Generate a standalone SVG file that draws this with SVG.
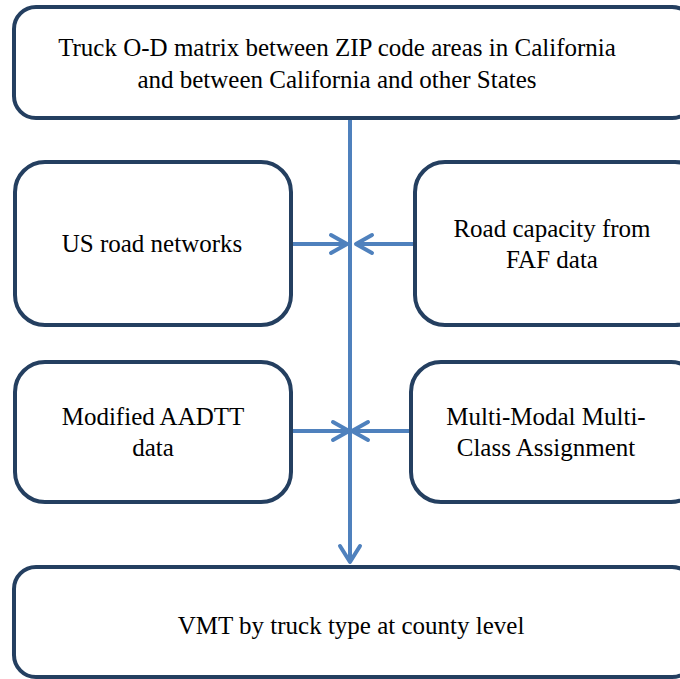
<svg xmlns="http://www.w3.org/2000/svg" width="680" height="679" viewBox="0 0 680 679">
<style>
.box{fill:#fff;stroke:#243F60;stroke-width:4}
.t{font-family:"Liberation Serif",serif;font-size:25px;fill:#000;text-anchor:middle}
.c{stroke:#4F81BD;stroke-width:4;fill:none}
.h{stroke:#4F81BD;stroke-width:4;fill:none;stroke-linecap:round;stroke-linejoin:round}
</style>
<rect width="680" height="679" fill="#fff"/>
<g id="connectors">
<line class="c" x1="350" y1="118" x2="350" y2="562"/>
<polyline class="h" points="340,546 350,562 360,546"/>
<line class="c" x1="292" y1="244" x2="347" y2="244"/>
<polyline class="h" points="331,235 347,244 331,253"/>
<line class="c" x1="415" y1="244" x2="356" y2="244"/>
<polyline class="h" points="372,235 356,244 372,253"/>
<line class="c" x1="292" y1="431" x2="349" y2="431"/>
<polyline class="h" points="333,422 349,431 333,440"/>
<line class="c" x1="411" y1="431" x2="352" y2="431"/>
<polyline class="h" points="368,422 352,431 368,440"/>
</g>
<g id="n1"><rect class="box" x="14" y="7" width="680" height="111" rx="22"/>
<text class="t" x="337" y="56">Truck O-D matrix between ZIP code areas in California</text>
<text class="t" x="337" y="88">and between California and other States</text></g>
<g id="n2"><rect class="box" x="15" y="162" width="276" height="163" rx="30"/>
<text class="t" x="152" y="252">US road networks</text></g>
<g id="n3"><rect class="box" x="415" y="162" width="290" height="163" rx="30"/>
<text class="t" x="552" y="237">Road capacity from</text>
<text class="t" x="552" y="268">FAF data</text></g>
<g id="n4"><rect class="box" x="15" y="362" width="276" height="140" rx="30"/>
<text class="t" x="153" y="425">Modified AADTT</text>
<text class="t" x="153" y="456">data</text></g>
<g id="n5"><rect class="box" x="411" y="362" width="290" height="140" rx="30"/>
<text class="t" x="546" y="425">Multi-Modal Multi-</text>
<text class="t" x="546" y="456">Class Assignment</text></g>
<g id="n6"><rect class="box" x="14" y="567" width="680" height="110" rx="22"/>
<text class="t" x="351" y="634">VMT by truck type at county level</text></g>
</svg>
